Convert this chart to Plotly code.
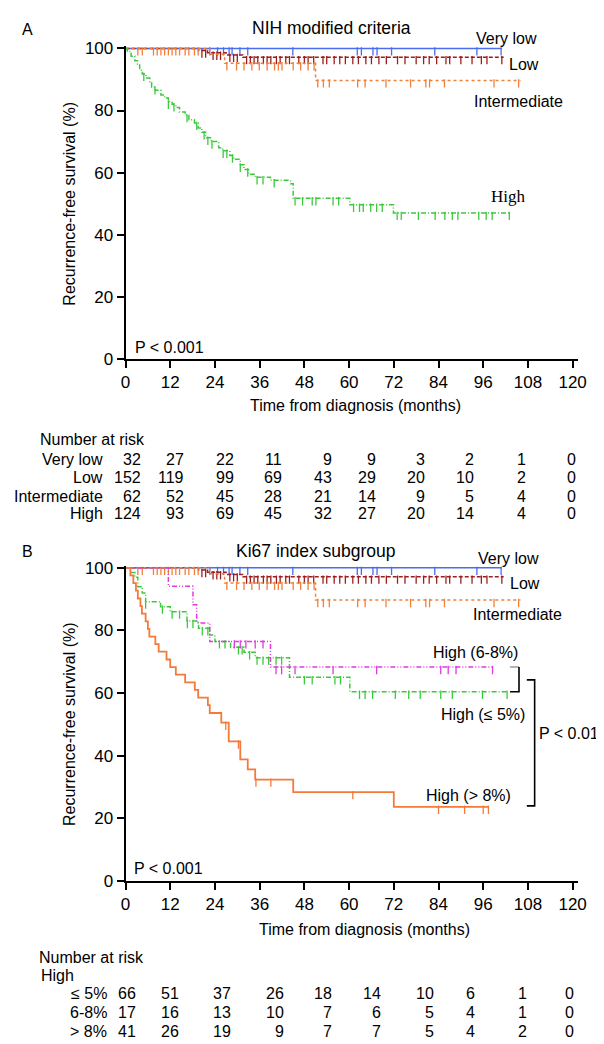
import plotly.graph_objects as go

# ---------------- data ----------------
MONTH_TICKS = [0, 12, 24, 36, 48, 60, 72, 84, 96, 108, 120]
SURV_TICKS = [0, 20, 40, 60, 80, 100]

# shared curves (Very low / Low / Intermediate)
VLOW_T = []
VLOW_S = []
VLOW_END = 101.0
VLOW_CENSOR = [22.6, 24.7, 26.3, 27.8, 28.6, 30.7, 32.8, 44.9, 62.2, 63.3, 66.4, 67.5, 71.4, 83.0, 94.3, 100.8]

LOW_T = [19.6, 22.0, 27.0, 31.5]
LOW_S = [99.3, 98.6, 97.9, 97.2]
LOW_END = 101.5
LOW_CENSOR = [20.5, 21.5, 23.5, 24.5, 25.5, 28.0, 29.0, 30.0, 32.5, 33.5, 34.5, 35.5, 37.0, 38.0, 39.0, 40.5,
              41.5, 43.0, 44.0, 46.5, 48.0, 49.0, 50.5, 53.0, 54.0, 56.0, 57.5, 59.0, 61.0, 62.5, 64.5,
              66.0, 68.0, 70.0, 73.0, 75.0, 78.0, 80.0, 81.5, 83.5, 86.0, 87.0, 90.0, 93.0, 95.5, 97.0, 101.0]

INT_T = [22.6, 26.6, 51.0]
INT_S = [98.1, 95.2, 89.7]
INT_END = 106.0
INT_CENSOR = [3.3, 4.5, 7.5, 8.5, 9.5, 10.5, 11.5, 12.5, 13.5, 14.5, 16.0, 17.0, 18.5, 19.5,
              27.2, 29.8, 31.8, 33.9, 35.9, 38.0, 40.0, 41.0, 42.0, 45.0, 47.0, 49.0, 50.6,
              51.6, 53.1, 54.7, 62.3, 64.3, 69.9, 76.5, 80.6, 81.6, 85.6, 98.9, 105.5]

# Panel A: High
HIGH_T = [0.5, 1.5, 2.5, 3.2, 3.8, 4.5, 5.5, 6.5, 7.0, 8.0, 9.5, 10.5, 11.5, 12.5, 13.5, 14.5, 16.0,
          17.0, 18.5, 19.5, 20.5, 21.5, 23.0, 25.0, 26.0, 28.0, 29.0, 30.8, 31.8, 33.0, 34.8, 38.9,
          44.3, 45.0, 60.2, 71.9]
HIGH_S = [99.0, 97.5, 96.0, 95.0, 93.0, 91.8, 90.5, 89.0, 87.5, 86.5, 85.0, 84.0, 82.8, 82.0, 81.0,
          79.5, 78.5, 77.0, 76.0, 74.4, 73.0, 71.2, 70.0, 68.0, 67.0, 65.5, 64.3, 62.5, 61.0, 59.5,
          58.5, 57.5, 56.4, 51.7, 49.6, 47.0]
HIGH_END = 103.0
HIGH_CENSOR = [4.9, 7.9, 11.5, 13.0, 16.5, 19.1, 21.1, 22.1, 23.2, 26.2, 27.2, 28.7, 30.8, 32.8, 35.3,
               36.9, 39.9, 45.5, 47.5, 50.1, 51.1, 55.7, 57.2, 61.2, 62.8, 63.8, 65.8, 67.4, 68.9,
               72.9, 74.0, 78.6, 83.1, 85.7, 87.7, 89.2, 94.8, 96.8, 98.4, 103.0]

# Panel B: Ki67 subgroups of High
K5_T = [1.3, 2.5, 3.3, 4.5, 5.4, 9.4, 12.0, 16.5, 19.6, 22.6, 24.0, 28.2, 31.8, 34.8, 44.0, 60.2]
K5_S = [98.5, 97.0, 94.0, 92.0, 89.2, 87.6, 86.0, 83.0, 80.7, 78.5, 76.5, 74.6, 73.0, 71.3, 65.0, 60.4]
K5_END = 102.4
K5_CENSOR = [5.4, 9.9, 12.5, 14.5, 16.6, 18.1, 20.6, 22.1, 25.2, 26.7, 30.3, 31.3, 33.3, 35.3, 36.9,
             38.4, 40.4, 41.9, 48.0, 50.1, 56.2, 57.7, 62.8, 64.3, 66.3, 72.4, 76.0, 79.1, 84.6, 87.7,
             95.8, 102.4]

K68_T = [11.5, 18.1, 19.1, 22.6, 38.9]
K68_S = [94.1, 88.2, 82.4, 76.5, 68.3]
K68_END = 98.5
K68_CENSOR = [29.2, 30.8, 32.3, 34.8, 36.9, 40.4, 41.9, 45.5, 55.7, 67.4, 84.6, 86.6, 88.7, 98.5]

K8_T = [1.3, 2.1, 2.8, 3.3, 4.0, 4.4, 5.4, 6.0, 6.4, 8.0, 8.9, 11.0, 12.0, 13.5, 16.0, 18.6, 19.5,
        22.1, 22.6, 25.7, 27.7, 30.8, 32.8, 34.8, 45.0, 72.0]
K8_S = [97.6, 95.1, 92.7, 90.2, 87.8, 85.4, 82.9, 80.5, 78.0, 75.6, 73.2, 70.7, 68.3, 65.9, 63.4,
        61.0, 58.5, 56.1, 53.6, 50.5, 44.5, 38.8, 35.6, 32.3, 28.3, 23.6]
K8_END = 97.4
K8_CENSOR = [26.9, 30.3, 35.0, 39.0, 61.0, 84.0, 91.0, 96.0, 97.4]

# risk tables
RISK_A_LABELS = ["Very low", "Low", "Intermediate", "High"]
RISK_A = [
    [32, 27, 22, 11, 9, 9, 3, 2, 1, 0],
    [152, 119, 99, 69, 43, 29, 20, 10, 2, 0],
    [62, 52, 45, 28, 21, 14, 9, 5, 4, 0],
    [124, 93, 69, 45, 32, 27, 20, 14, 4, 0],
]
RISK_B_LABELS = ["≤ 5%", "6-8%", "> 8%"]
RISK_B = [
    [66, 51, 37, 26, 18, 14, 10, 6, 1, 0],
    [17, 16, 13, 10, 7, 6, 5, 4, 1, 0],
    [41, 26, 19, 9, 7, 7, 5, 4, 2, 0],
]

# ---------------- layout helpers ----------------
W, H = 604, 1044
FONT = "Liberation Sans, Arial, sans-serif"
SERIF = "Liberation Serif, Times New Roman, serif"


def px(x):
    return x / W


def py(y):
    return 1 - y / H


C_VLOW = "#4a6cf0"
C_LOW = "#9c1f1f"
C_INT = "#f0803a"
C_HIGH = "#3dc93d"
C_K68 = "#e03ae0"
C_K8 = "#f47a3a"

fig = go.Figure()


def surv_at(t, times, surv):
    s = 100.0
    for ti, si in zip(times, surv):
        if ti <= t:
            s = si
    return s


def add_curve(times, surv, end, censor, color, dash, xa, ya, width=1.5):
    xs = [0] + list(times) + [end]
    ys = [100.0] + list(surv) + [surv[-1] if surv else 100.0]
    fig.add_trace(go.Scatter(x=xs, y=ys, mode="lines", line=dict(color=color, width=width, dash=dash, shape="hv"),
                             xaxis=xa, yaxis=ya, showlegend=False, hoverinfo="skip"))
    cy = [surv_at(t, times, surv) - 0.95 for t in censor]
    fig.add_trace(go.Scatter(x=censor, y=cy, mode="markers",
                             marker=dict(symbol="line-ns", size=6, line=dict(color=color, width=1.3)),
                             xaxis=xa, yaxis=ya, showlegend=False, hoverinfo="skip"))


for xa, ya in [("x", "y"), ("x2", "y2")]:
    add_curve(VLOW_T, VLOW_S, VLOW_END, VLOW_CENSOR, C_VLOW, "solid", xa, ya)
    add_curve(LOW_T, LOW_S, LOW_END, LOW_CENSOR, C_LOW, "4px,2px", xa, ya)
    add_curve(INT_T, INT_S, INT_END, INT_CENSOR, C_INT, "dot", xa, ya)

add_curve(HIGH_T, HIGH_S, HIGH_END, HIGH_CENSOR, C_HIGH, "5px,2px,1px,2px", "x", "y")
add_curve(K5_T, K5_S, K5_END, K5_CENSOR, C_HIGH, "5px,2px,1px,2px", "x2", "y2")
add_curve(K68_T, K68_S, K68_END, K68_CENSOR, C_K68, "5px,2px,1px,2px,1px,2px", "x2", "y2")
add_curve(K8_T, K8_S, K8_END, K8_CENSOR, C_K8, "solid", "x2", "y2", width=1.8)

X0, XPX = 115, 3.808
XMAX = 121.5
xdom = [px(X0), px(X0 + XMAX * XPX)]

axis_common = dict(showline=True, linewidth=1.7, linecolor="black", ticks="outside", ticklen=7,
                   tickwidth=1.7, tickcolor="black", showgrid=False, zeroline=False,
                   tickfont=dict(family=FONT, size=17, color="black"))

fig.update_layout(
    width=W, height=H, margin=dict(l=0, r=0, t=0, b=0),
    paper_bgcolor="white", plot_bgcolor="white", showlegend=False,
    xaxis=dict(domain=xdom, range=[0, XMAX], tickvals=MONTH_TICKS, anchor="y", **axis_common),
    yaxis=dict(domain=[py(349.5), py(31.8)], range=[0, 100.7], tickvals=SURV_TICKS, anchor="x", **axis_common),
    xaxis2=dict(domain=xdom, range=[0, XMAX], tickvals=MONTH_TICKS, anchor="y2", **axis_common),
    yaxis2=dict(domain=[py(880), py(559.8)], range=[0, 100.7], tickvals=SURV_TICKS, anchor="x2", **axis_common),
)

ann = []


def text(x, y, s, size=16, xanchor="left", family=FONT, angle=0):
    ann.append(dict(x=px(x), y=py(y), xref="paper", yref="paper", text=s, showarrow=False,
                    xanchor=xanchor, yanchor="middle", textangle=angle, borderpad=0,
                    font=dict(family=family, size=size, color="black")))


# Panel A texts
text(8, 15, "A", 16)
text(326, 13, "NIH modified criteria", 17.5, "center")
text(472, 24, "Very low", 16)
text(506, 50, "Low", 16)
text(470, 88, "Intermediate", 16)
text(487, 185, "High", 17, family=SERIF)
text(124, 338, "P &lt; 0.001", 16)
text(58, 192, "Recurrence-free survival (%)", 16, "center", angle=-90)
text(350, 397, "Time from diagnosis (months)", 16, "center")

# Panel B texts
text(8, 545, "B", 16)
text(310, 545, "Ki67 index subgroup", 17.5, "center")
text(474, 552, "Very low", 16)
text(507, 578, "Low", 16)
text(469, 609, "Intermediate", 16)
text(428, 648, "High (6-8%)", 16)
text(436, 711, "High (≤ 5%)", 16)
text(537, 730, "P &lt; 0.01", 16)
text(421, 793, "High (&gt; 8%)", 16)
text(123, 868, "P &lt; 0.001", 16)
text(58, 721, "Recurrence-free survival (%)", 16, "center", angle=-90)
text(359, 930, "Time from diagnosis (months)", 16, "center")

# risk tables
COL_A = [132, 176, 227, 276, 327, 372, 422, 472, 525, 576]
ROW_A = [452, 470, 489, 507]
text(27, 432, "Number at risk", 16)
for lab, row, yy in zip(RISK_A_LABELS, RISK_A, ROW_A):
    text(93, yy, lab, 16, "right")
    for v, cx in zip(row, COL_A):
        text(cx, yy, str(v), 16, "right")

COL_B = [127, 171, 224, 278, 327, 377, 431, 473, 526, 574]
ROW_B = [995, 1014, 1033]
text(26, 958, "Number at risk", 16)
text(28, 976, "High", 16)
for lab, row, yy in zip(RISK_B_LABELS, RISK_B, ROW_B):
    text(97, yy, lab, 16, "right")
    for v, cx in zip(row, COL_B):
        text(cx, yy, str(v), 16, "right")

fig.update_layout(annotations=ann)

# brackets in panel B (data coords)
BR_SMALL = dict(x0=103.2, x1=105.6, y_top=68.3, y_bot=60.4)
BR_LARGE = dict(x0=107.7, x1=109.8, y_top=64.2, y_bot=23.9)
# small bracket: grey top arm, black rest
fig.add_shape(type="line", x0=BR_SMALL["x0"], x1=BR_SMALL["x1"], y0=BR_SMALL["y_top"], y1=BR_SMALL["y_top"],
              xref="x2", yref="y2", line=dict(color="#9a9a9a", width=1.6))
fig.add_shape(type="path",
              path=(f"M {BR_SMALL['x1']},{BR_SMALL['y_top']} L {BR_SMALL['x1']},{BR_SMALL['y_bot']} "
                    f"L {BR_SMALL['x0']},{BR_SMALL['y_bot']}"),
              xref="x2", yref="y2", line=dict(color="black", width=1.6))
fig.add_shape(type="path",
              path=(f"M {BR_LARGE['x0']},{BR_LARGE['y_top']} L {BR_LARGE['x1']},{BR_LARGE['y_top']} "
                    f"L {BR_LARGE['x1']},{BR_LARGE['y_bot']} L {BR_LARGE['x0']},{BR_LARGE['y_bot']}"),
              xref="x2", yref="y2", line=dict(color="black", width=1.6))

fig.write_html("out.html")
